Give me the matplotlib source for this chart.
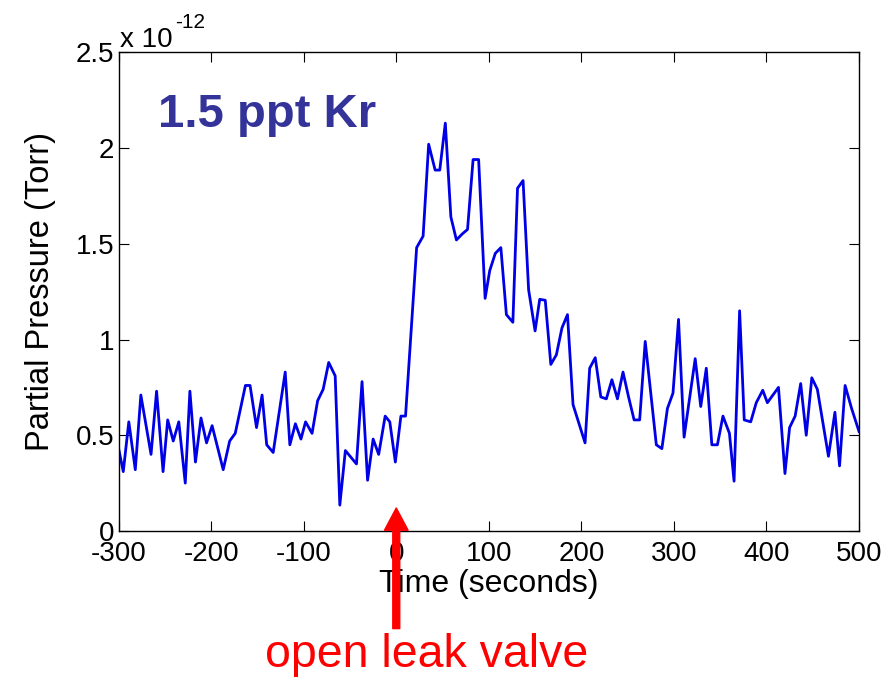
import matplotlib
matplotlib.use('Agg')
import matplotlib.pyplot as plt
from matplotlib.ticker import FuncFormatter

plt.rcParams['font.family'] = ['Liberation Sans', 'DejaVu Sans']
plt.rcParams['axes.unicode_minus'] = False

# Kr partial pressure trace, units of 1e-12 Torr
t_seg1 = [-300, -295, -289, -282, -276, -265, -259, -252, -247, -241, -235, -228,
          -223, -217, -211, -205, -199, -187, -180, -174, -163, -158, -151, -145]
p_seg1 = [0.43, 0.31, 0.57, 0.32, 0.71, 0.40, 0.73, 0.31, 0.58, 0.47, 0.57, 0.25,
          0.73, 0.36, 0.59, 0.46, 0.55, 0.32, 0.47, 0.51, 0.76, 0.76, 0.54, 0.71]
t_seg2 = [-140, -133, -120, -115, -109, -103, -98, -91, -85, -79, -73, -66,
          -61, -55, -43, -37, -31, -25, -19, -12, -7, -1, 5, 10]
p_seg2 = [0.45, 0.41, 0.83, 0.45, 0.56, 0.48, 0.57, 0.51, 0.68, 0.74, 0.88, 0.81,
          0.135, 0.42, 0.35, 0.78, 0.265, 0.48, 0.40, 0.60, 0.57, 0.36, 0.60, 0.60]
t_seg3 = [22, 29, 35, 42, 47, 53, 59, 65, 71, 77, 83, 89, 96, 101, 107, 113,
          119, 126, 131, 137, 143, 150, 155, 161, 167, 173, 179, 185]
p_seg3 = [1.48, 1.54, 2.02, 1.885, 1.885, 2.13, 1.64, 1.52, 1.55, 1.575, 1.94, 1.94,
          1.215, 1.36, 1.45, 1.48, 1.13, 1.09, 1.79, 1.83, 1.26, 1.045, 1.21, 1.205,
          0.87, 0.92, 1.06, 1.13]
t_seg4 = [191, 204, 209, 215, 221, 227, 233, 239, 245, 251, 257, 263, 269,
          281, 287, 293, 299, 305, 311, 323, 329, 335]
p_seg4 = [0.66, 0.46, 0.85, 0.905, 0.70, 0.69, 0.79, 0.69, 0.83, 0.70, 0.58, 0.58, 0.99,
          0.45, 0.43, 0.64, 0.72, 1.105, 0.49, 0.90, 0.65, 0.85]
t_seg5 = [341, 347, 353, 360, 365, 371, 376, 383, 389, 396, 401, 413, 420, 425,
          431, 437, 443, 449, 455, 467, 474, 479, 485, 492, 500]
p_seg5 = [0.45, 0.45, 0.60, 0.51, 0.26, 1.15, 0.58, 0.57, 0.67, 0.735, 0.67, 0.75,
          0.30, 0.54, 0.60, 0.77, 0.50, 0.80, 0.74, 0.39, 0.62, 0.34, 0.76, 0.64, 0.52]

time = t_seg1 + t_seg2 + t_seg3 + t_seg4 + t_seg5
pressure = p_seg1 + p_seg2 + p_seg3 + p_seg4 + p_seg5

xticks = [-300, -200, -100, 0, 100, 200, 300, 400, 500]
yticks = [0, 0.5, 1, 1.5, 2, 2.5]

fig = plt.figure(figsize=(8.92, 6.77), dpi=100)
ax = fig.add_axes([0.133, 0.2157, 0.83, 0.707])

ax.plot(time, pressure, color='#0000e6', linewidth=2.0)

ax.set_xlim(-300, 500)
ax.set_ylim(0, 2.5)
ax.set_xticks(xticks)
ax.set_yticks(yticks)
ax.yaxis.set_major_formatter(FuncFormatter(lambda v, pos: '%g' % v))
ax.tick_params(direction='in', length=7, width=0.8, labelsize=20, pad=3,
               top=True, right=True, colors='black')
ax.tick_params(axis='x', pad=7)
for s in ax.spines.values():
    s.set_linewidth(1.0)

ax.set_xlabel('Time (seconds)', fontsize=23, labelpad=2)
ax.set_ylabel('Partial Pressure (Torr)', fontsize=23.5, labelpad=14)

# exponent label above the y axis
fig.text(120 / 892, 1 - 47 / 677, 'x 10', fontsize=20, ha='left', va='baseline')
fig.text(175 / 892, 1 - 28 / 677, '-12', fontsize=15, ha='left', va='baseline')

ax.text(0.053, 0.87, '1.5 ppt Kr', transform=ax.transAxes, fontsize=34,
        fontweight='bold', color='#333399', ha='left', va='center')

# valve arrow below the axis
ax.annotate('', xy=(0, 0.12), xytext=(0, -0.51), xycoords='data',
            arrowprops=dict(color='red', width=5, headwidth=17, headlength=16, shrink=0),
            annotation_clip=False)
fig.text(427 / 892, 1 - 655 / 677, 'open leak valve', color='red', fontsize=33.5,
         ha='center', va='center')

fig.savefig('out.png', dpi=100)
